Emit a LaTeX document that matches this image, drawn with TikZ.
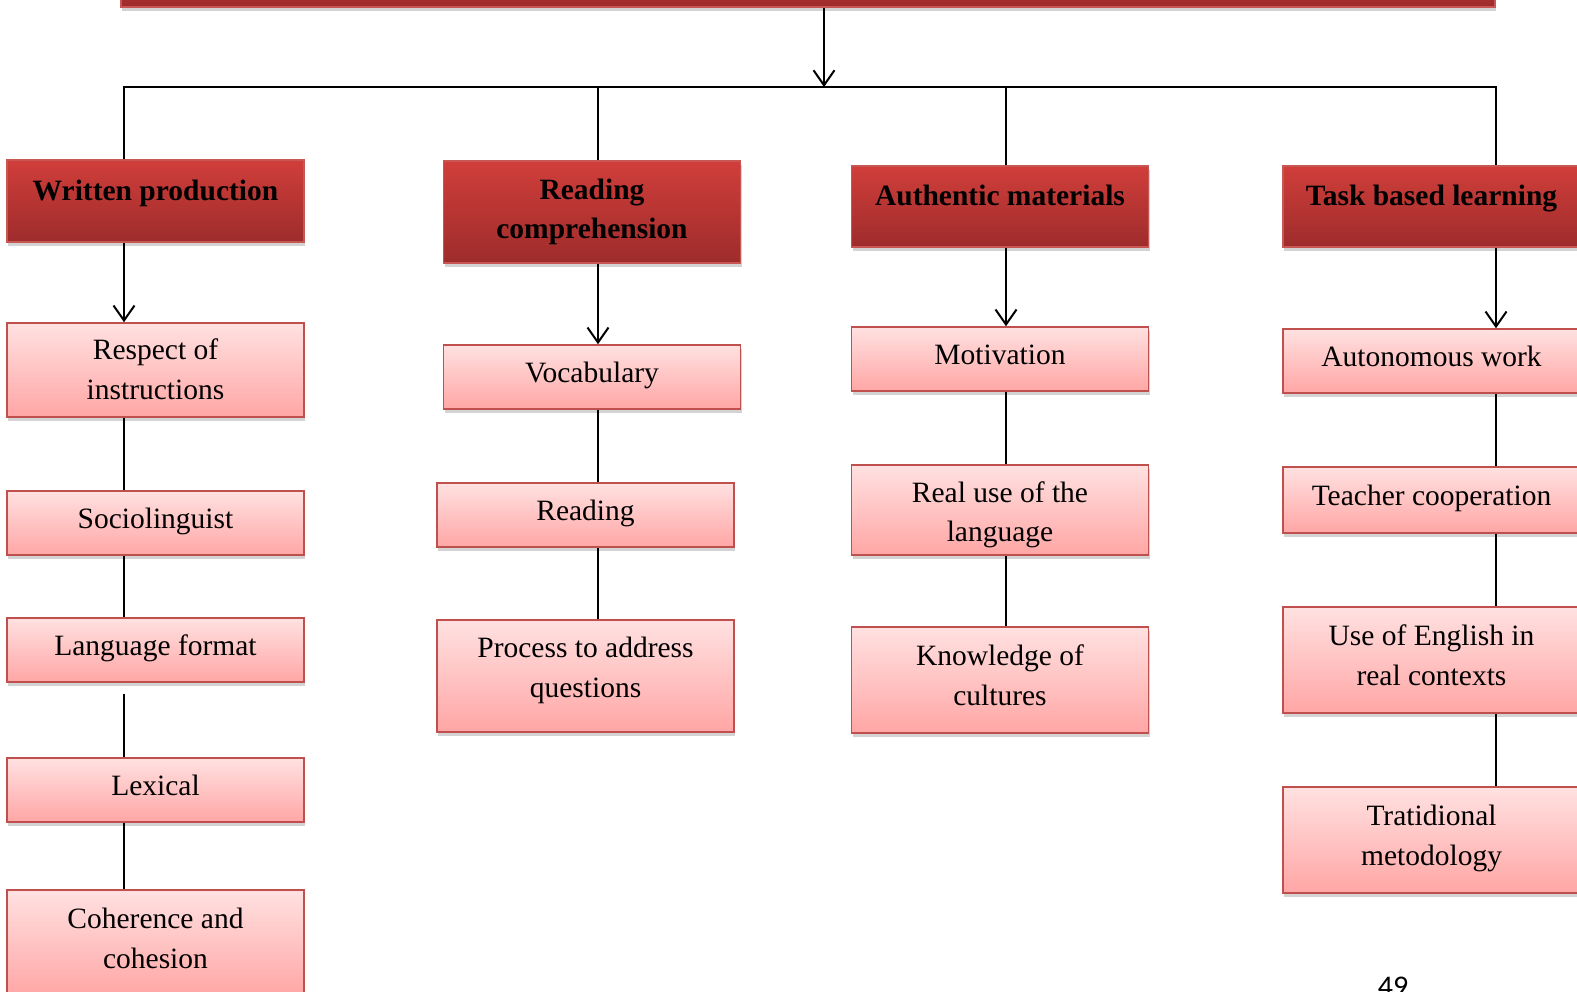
\documentclass[tikz,border=0pt]{standalone}
\usepackage{fontspec}
\setmainfont{Liberation Serif}
\newfontfamily\pagefont{Carlito}
\usetikzlibrary{arrows.meta,shadows}

\definecolor{headtop}{RGB}{208,62,58}
\definecolor{headbot}{RGB}{158,44,44}
\definecolor{headline}{RGB}{200,86,82}
\definecolor{subtop}{RGB}{255,225,225}
\definecolor{subbot}{RGB}{255,166,165}
\definecolor{subline}{RGB}{192,80,77}

\tikzset{
  boxshadow/.style={drop shadow={shadow xshift=1pt,shadow yshift=-4pt,opacity=.35}},
  headbox/.style={draw=headline, line width=1.5pt, top color=headtop, bottom color=headbot,
    minimum width=297pt, inner sep=0pt, align=center, boxshadow,
    font=\fontsize{29.5}{39.3}\selectfont\bfseries},
  subbox/.style={draw=subline, line width=1.5pt, top color=subtop, bottom color=subbot,
    minimum width=297pt, inner sep=0pt, align=center, boxshadow,
    font=\fontsize{29.5}{39.3}\selectfont},
  headone/.style={text height=20pt, text depth=21pt},
  oneline/.style={text height=20pt, text depth=9pt},
  twolines/.style={text height=59pt, text depth=9pt},
  link/.style={line width=2pt},
}

\begin{document}
\begin{tikzpicture}[x=1pt,y=-1pt,>={Straight Barb[length=15pt,width=21pt]}]
\useasboundingbox (0,0) rectangle (1577,992);
\clip (0,0) rectangle (1577,992);
%% top bar
\node[headbox, minimum width=1374pt, minimum height=67pt] (top) at (808,-26.5) {};
%% column 1
\node[headbox, headone, minimum height=82pt] (wp) at (155.5,201) {Written production};
\node[subbox, twolines, text depth=1pt, minimum height=94pt] (rs) at (155.5,370) {Respect of\\instructions};
\node[subbox, oneline, minimum height=64pt] (so) at (155.5,523) {Sociolinguist};
\node[subbox, oneline, minimum height=64pt] (lf) at (155.5,650) {Language format};
\node[subbox, oneline, minimum height=64pt] (lx) at (155.5,790) {Lexical};
\node[subbox, twolines, minimum height=106pt] (ch) at (155.5,943) {Coherence and\\cohesion};
%% column 2
\node[headbox, minimum height=102pt] (rc) at (592,212) {Reading\\comprehension};
\node[subbox, oneline, minimum height=64pt] (vo) at (592,377) {Vocabulary};
\node[subbox, oneline, minimum height=64pt] (re) at (585.5,515) {Reading};
\node[subbox, twolines, text depth=17pt, minimum height=112pt] (pq) at (585.5,676) {Process to address\\questions};
%% column 3
\node[headbox, headone, minimum height=81pt] (am) at (1000,206.5) {Authentic materials};
\node[subbox, oneline, minimum height=64pt] (mo) at (1000,359) {Motivation};
\node[subbox, twolines, text height=63pt, text depth=0pt, minimum height=90pt] (ru) at (1000,510) {Real use of the\\language};
\node[subbox, twolines, minimum height=106pt] (kc) at (1000,680) {Knowledge of\\cultures};
%% column 4
\node[headbox, headone, minimum height=81pt] (tb) at (1431.5,206.5) {Task based learning};
\node[subbox, oneline, minimum height=64pt] (aw) at (1431.5,361) {Autonomous work};
\node[subbox, oneline, minimum height=66pt] (tc) at (1431.5,500) {Teacher cooperation};
\node[subbox, twolines, minimum height=106pt] (ue) at (1431.5,660) {Use of English in\\real contexts};
\node[subbox, twolines, minimum height=106pt] (tm) at (1431.5,840) {Tratidional\\metodology};
%% page number
\node[font=\pagefont\fontsize{30}{32}\selectfont, inner sep=0pt, anchor=north] (pg) at (1393,977) {49};
%% connectors
\coordinate (hub) at (824,87);
\coordinate (c1) at (124,87);
\coordinate (c2) at (598,87);
\coordinate (c3) at (1006,87);
\coordinate (c4) at (1496,87);
\draw[link,->] (top.south -| hub) -- (hub);
\draw[link] (wp.north -| c1) -- (c1) -- (c4) -- (tb.north -| c4);
\draw[link] (c2) -- (rc.north -| c2);
\draw[link] (c3) -- (am.north -| c3);
% Written production
\draw[link,->] (wp.south -| c1) -- (rs.north -| c1);
\draw[link] (rs.south -| c1) -- (so.north -| c1);
\draw[link] (so.south -| c1) -- (lf.north -| c1);
\draw[link,shorten <=11pt] (lf.south -| c1) -- (lx.north -| c1);
\draw[link] (lx.south -| c1) -- (ch.north -| c1);
% Reading comprehension
\draw[link,->] (rc.south -| c2) -- (vo.north -| c2);
\draw[link] (vo.south -| c2) -- (re.north -| c2);
\draw[link] (re.south -| c2) -- (pq.north -| c2);
% Authentic materials
\draw[link,->] (am.south -| c3) -- (mo.north -| c3);
\draw[link] (mo.south -| c3) -- (ru.north -| c3);
\draw[link] (ru.south -| c3) -- (kc.north -| c3);
% Task based learning
\draw[link,->] (tb.south -| c4) -- (aw.north -| c4);
\draw[link] (aw.south -| c4) -- (tc.north -| c4);
\draw[link] (tc.south -| c4) -- (ue.north -| c4);
\draw[link] (ue.south -| c4) -- (tm.north -| c4);
\end{tikzpicture}
\end{document}
